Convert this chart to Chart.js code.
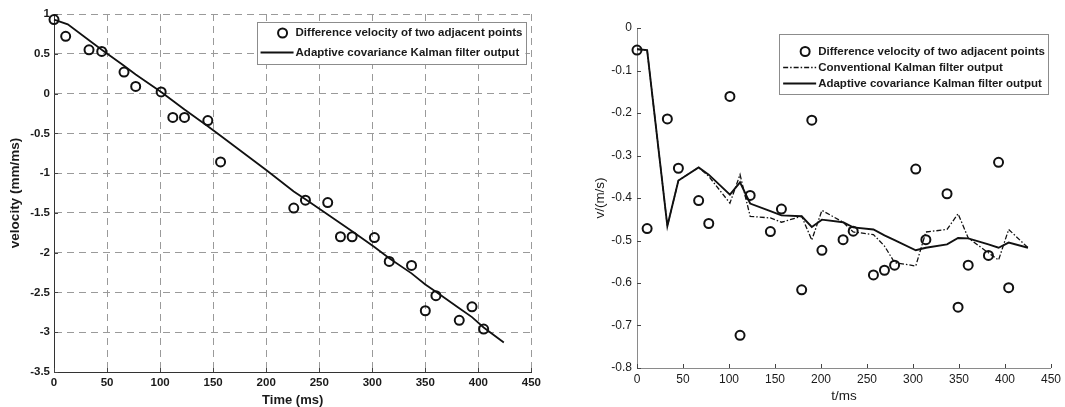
<!DOCTYPE html>
<html>
<head>
<meta charset="utf-8">
<script src="https://cdn.jsdelivr.net/npm/chart.js@4.4.1/dist/chart.umd.min.js"></script>
<style>
    body { margin: 0; background: #fff; }
    #leftBox { position: absolute; left: 0; top: 0; width: 545px; height: 407px; }
    #rightBox { position: absolute; left: 545px; top: 0; width: 520px; height: 407px; }
</style>
</head>
<body>
<div id="leftBox"><canvas id="velocityChart"></canvas></div>
<div id="rightBox"><canvas id="kalmanChart"></canvas></div>
<script>
// Sol grafik: fark hızı ve adaptif filtre (mm/ms)
const timeLeft = [0, 11, 33, 45, 66, 77, 101, 112, 123, 145, 157, 226, 237, 258, 270, 281, 302, 316, 337, 350, 360, 382, 394, 405];
const diffLeft = [0.93, 0.72, 0.55, 0.53, 0.27, 0.09, 0.02, -0.30, -0.30, -0.34, -0.86, -1.44, -1.34, -1.37, -1.80, -1.80, -1.81, -2.11, -2.16, -2.73, -2.54, -2.85, -2.68, -2.96];
const filterTimeLeft = [0, 13, 33, 45, 66, 77, 101, 112, 123, 145, 157, 200, 226, 237, 258, 270, 281, 302, 316, 337, 350, 360, 382, 394, 405, 424];
const adaptiveLeft = [0.93, 0.87, 0.67, 0.55, 0.35, 0.24, 0.02, -0.09, -0.20, -0.41, -0.53, -0.96, -1.23, -1.33, -1.52, -1.63, -1.73, -1.93, -2.07, -2.26, -2.40, -2.49, -2.70, -2.81, -2.94, -3.13];
const xTicksLeft = [0, 50, 100, 150, 200, 250, 300, 350, 400, 450];
const yTicksLeft = [-3.5, -3, -2.5, -2, -1.5, -1, -0.5, 0, 0.5, 1];

// Sağ grafik: fark hızı, klasik ve adaptif Kalman (m/s)
const timeRight = [0, 11, 33, 45, 67, 78, 101, 112, 123, 145, 157, 179, 190, 201, 224, 235, 257, 269, 280, 303, 314, 337, 349, 360, 382, 393, 404];
const diffRight = [-0.052, -0.472, -0.214, -0.330, -0.406, -0.460, -0.161, -0.723, -0.394, -0.479, -0.426, -0.616, -0.217, -0.523, -0.498, -0.478, -0.581, -0.570, -0.558, -0.332, -0.498, -0.390, -0.657, -0.558, -0.535, -0.316, -0.611];
const filterTimeRight = [0, 11, 33, 45, 67, 78, 101, 112, 123, 145, 157, 179, 190, 201, 224, 235, 257, 269, 280, 303, 314, 337, 349, 360, 382, 393, 404, 425];
const adaptiveRight = [-0.050, -0.052, -0.466, -0.359, -0.328, -0.345, -0.392, -0.363, -0.413, -0.431, -0.441, -0.443, -0.468, -0.451, -0.457, -0.469, -0.474, -0.488, -0.499, -0.523, -0.517, -0.509, -0.494, -0.495, -0.509, -0.517, -0.505, -0.517];
const conventionalRight = [-0.050, -0.052, -0.466, -0.359, -0.328, -0.349, -0.412, -0.345, -0.443, -0.447, -0.457, -0.443, -0.499, -0.429, -0.457, -0.480, -0.486, -0.513, -0.552, -0.560, -0.480, -0.474, -0.437, -0.494, -0.529, -0.546, -0.474, -0.517];
const xTicksRight = [0, 50, 100, 150, 200, 250, 300, 350, 400, 450];
const yTicksRight = [-0.8, -0.7, -0.6, -0.5, -0.4, -0.3, -0.2, -0.1, 0];

const FONT = '"Liberation Sans", Arial, sans-serif';
const toPoints = (xs, ys) => xs.map((x, i) => ({ x: x, y: ys[i] }));
const fixedTicks = list => scale => { scale.ticks = list.map(v => ({ value: v })); };
const plainLabel = v => String(Number(v.toFixed(3)));

// Çizim alanının içine doğru küçük tik çizgileri
const innerTicks = {
    id: 'innerTicks',
    beforeDatasetsDraw(chart) {
        const { ctx, chartArea: a, scales } = chart;
        ctx.save();
        ctx.strokeStyle = '#444';
        ctx.lineWidth = 1;
        ctx.beginPath();
        scales.x.ticks.forEach(t => {
            const px = Math.round(scales.x.getPixelForValue(t.value)) + 0.5;
            ctx.moveTo(px, a.bottom);
            ctx.lineTo(px, a.bottom - 4);
        });
        scales.y.ticks.forEach(t => {
            const py = Math.round(scales.y.getPixelForValue(t.value)) + 0.5;
            ctx.moveTo(a.left, py);
            ctx.lineTo(a.left + 4, py);
        });
        ctx.stroke();
        ctx.restore();
    }
};

// MATLAB tarzı kutulu lejant
const boxLegend = {
    id: 'boxLegend',
    afterDraw(chart, args, opts) {
        const { ctx, chartArea: a } = chart;
        ctx.save();
        ctx.font = 'bold 11.5px ' + FONT;
        const textW = Math.max(...opts.rows.map(r => ctx.measureText(r.label).width));
        const w = 39 + textW + 3;
        const right = a.right - opts.insetRight;
        const left = right - w;
        const top = a.top + opts.insetTop;
        ctx.fillStyle = '#fff';
        ctx.fillRect(left, top, w, opts.height);
        ctx.strokeStyle = '#8c8c8c';
        ctx.lineWidth = 1;
        ctx.strokeRect(Math.round(left) + 0.5, Math.round(top) + 0.5, Math.round(w), opts.height);
        opts.rows.forEach((r, i) => {
            const y = top + opts.rowY[i];
            ctx.strokeStyle = '#111';
            if (r.kind === 'circle') {
                ctx.lineWidth = 2;
                ctx.beginPath();
                ctx.arc(left + 26, y, 4.5, 0, Math.PI * 2);
                ctx.stroke();
            } else {
                ctx.lineWidth = r.kind === 'dashdot' ? 1.3 : 2;
                ctx.setLineDash(r.kind === 'dashdot' ? [5, 2, 1.5, 2] : []);
                ctx.beginPath();
                ctx.moveTo(left + 4, y);
                ctx.lineTo(left + 37, y);
                ctx.stroke();
                ctx.setLineDash([]);
            }
            ctx.fillStyle = '#1a1a1a';
            ctx.textBaseline = 'middle';
            ctx.fillText(r.label, left + 39, y);
        });
        ctx.restore();
    }
};

const circleSet = data => ({
    label: 'Difference velocity of two adjacent points',
    data: data,
    clip: 8,
    pointRadius: 4.5,
    pointBorderWidth: 2,
    pointBorderColor: '#111',
    pointBackgroundColor: 'rgba(0,0,0,0)',
    showLine: false
});

const lineSet = (label, data, dash, width) => ({
    label: label,
    data: data,
    clip: 8,
    showLine: true,
    pointRadius: 0,
    borderColor: '#111',
    borderWidth: width,
    borderDash: dash,
    tension: 0,
    fill: false
});

// Sol grafik
new Chart(document.getElementById('velocityChart'), {
    type: 'scatter',
    data: {
        datasets: [
            circleSet(toPoints(timeLeft, diffLeft)),
            lineSet('Adaptive covariance Kalman filter output', toPoints(filterTimeLeft, adaptiveLeft), [], 1.8)
        ]
    },
    options: {
        responsive: true,
        maintainAspectRatio: false,
        animation: false,
        layout: { padding: { left: 0, top: 14, right: 11, bottom: 0 } },
        plugins: {
            legend: { display: false },
            tooltip: { enabled: false },
            boxLegend: {
                insetRight: 6, insetTop: 8, height: 42, rowY: [11, 30.5],
                rows: [
                    { kind: 'circle', label: 'Difference velocity of two adjacent points' },
                    { kind: 'solid', label: 'Adaptive covariance Kalman filter output' }
                ]
            }
        },
        scales: {
            x: {
                min: 0, max: 450,
                afterBuildTicks: fixedTicks(xTicksLeft),
                afterFit: s => { s.height = 35; },
                grid: { color: '#9a9a9a', lineWidth: 1, drawTicks: false },
                border: { display: true, color: '#333', width: 1, dash: [7, 5] },
                ticks: { padding: 4, color: '#1a1a1a', font: { family: FONT, size: 11.5, weight: 'bold' }, maxRotation: 0, callback: plainLabel },
                title: { display: true, text: 'Time (ms)', color: '#1a1a1a', padding: 0, font: { family: FONT, size: 13, weight: 'bold', lineHeight: 1 } }
            },
            y: {
                min: -3.5, max: 1,
                afterBuildTicks: fixedTicks(yTicksLeft),
                afterFit: s => { s.width = 54; },
                grid: { color: '#9a9a9a', lineWidth: 1, drawTicks: false },
                border: { display: true, color: '#333', width: 1, dash: [7, 5] },
                ticks: { padding: 4, color: '#1a1a1a', font: { family: FONT, size: 11.5, weight: 'bold' }, callback: plainLabel },
                title: { display: true, text: 'velocity (mm/ms)', color: '#1a1a1a', padding: { top: 8.5, bottom: 0 }, font: { family: FONT, size: 13.5, weight: 'bold', lineHeight: 1 } }
            }
        }
    },
    plugins: [innerTicks, boxLegend]
});

// Sağ grafik
new Chart(document.getElementById('kalmanChart'), {
    type: 'scatter',
    data: {
        datasets: [
            circleSet(toPoints(timeRight, diffRight)),
            lineSet('Conventional Kalman filter output', toPoints(filterTimeRight, conventionalRight), [5, 2, 1.5, 2], 1.3),
            lineSet('Adaptive covariance Kalman filter output', toPoints(filterTimeRight, adaptiveRight), [], 1.9)
        ]
    },
    options: {
        responsive: true,
        maintainAspectRatio: false,
        animation: false,
        layout: { padding: { left: 0, top: 28, right: 12, bottom: 0 } },
        plugins: {
            legend: { display: false },
            tooltip: { enabled: false },
            boxLegend: {
                insetRight: 3, insetTop: 6, height: 60, rowY: [17.5, 33.5, 49.5],
                rows: [
                    { kind: 'circle', label: 'Difference velocity of two adjacent points' },
                    { kind: 'dashdot', label: 'Conventional Kalman filter output' },
                    { kind: 'solid', label: 'Adaptive covariance Kalman filter output' }
                ]
            }
        },
        scales: {
            x: {
                min: 0, max: 450,
                afterBuildTicks: fixedTicks(xTicksRight),
                afterFit: s => { s.height = 39; },
                grid: { display: false, drawTicks: false },
                border: { display: true, color: '#8a8a8a', width: 1 },
                ticks: { padding: 4, color: '#1a1a1a', font: { family: FONT, size: 12 }, maxRotation: 0, callback: plainLabel },
                title: { display: true, text: 't/ms', color: '#1a1a1a', padding: { top: 0, bottom: 3.8 }, font: { family: FONT, size: 13.5, lineHeight: 1 } }
            },
            y: {
                min: -0.8, max: 0,
                afterBuildTicks: fixedTicks(yTicksRight),
                afterFit: s => { s.width = 92; },
                grid: { display: false, drawTicks: false },
                border: { display: true, color: '#8a8a8a', width: 1 },
                ticks: { padding: 5, color: '#1a1a1a', font: { family: FONT, size: 12 }, callback: plainLabel },
                title: { display: true, text: 'v/(m/s)', color: '#1a1a1a', padding: { top: 48.5, bottom: 0 }, font: { family: FONT, size: 13.5, lineHeight: 1 } }
            }
        }
    },
    plugins: [innerTicks, boxLegend]
});
</script>
</body>
</html>
